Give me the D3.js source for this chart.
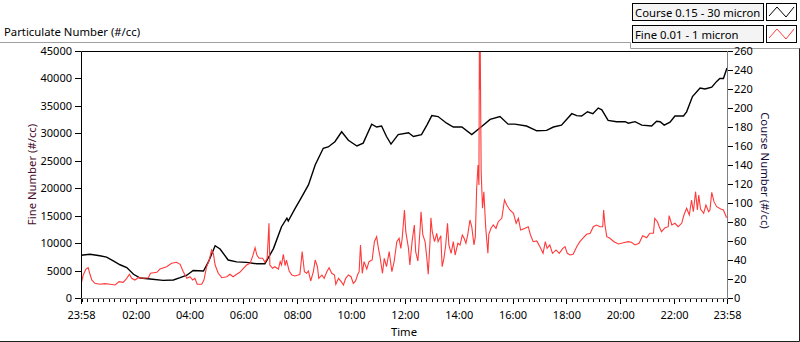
<!DOCTYPE html>
<html>
<head>
<meta charset="utf-8">
<title>Particulate Number</title>
<script src="https://d3js.org/d3.v7.min.js"></script>
<style>
    body { margin: 0; background: #fff; }
    svg text { font-family: "Noto Sans", sans-serif; }
</style>
</head>
<body>
<div id="chart"></div>
<script>
// Minutes after the 23:58 start, value in #/cc
const courseSeries = [
    [0,45],[20,46],[42,44.5],[57,43],[72,39],[87,35],[102,32],[117,25],[132,21],[154,20],
    [183,18.6],[206,19],[221,21.4],[236,24],[250,29],[273,28.4],[284,38],[299,55],[310,51.6],[328,40],
    [347,38],[369,37.5],[392,36],[410,36],[429,52],[447,75],[459,84],[462,81],[477,94],[488,103],
    [507,119],[522,140],[540,157.6],[551,159],[566,164.5],[581,175],[596,166],[615,160],[629,163],[648,183],
    [659,180],[670,181],[681,170],[691,162],[707,172],[730,174],[741,170],[759,172],[771,182],[782,192],
    [796,191],[815,184],[830,180],[849,180],[871,172],[889,179],[912,188],[934,191],[952,183],[967,183],
    [993,181],[1016,176],[1038,176.5],[1053,180],[1071,182],[1094,194],[1105,192],[1116,191.6],[1129,196],[1141,194],
    [1153,200],[1161,198],[1175,187],[1194,185.6],[1213,185.6],[1220,184],[1235,185.6],[1250,182],[1272,181],[1283,186],
    [1291,185.6],[1300,182],[1313,185],[1324,191.6],[1343,191.6],[1350,196],[1363,212],[1380,221],[1391,220],[1406,222],
    [1417,228],[1424,231],[1432,231],[1440,242]
];

const fineSeries = [
    [0,2500],[5,4190],[11,5280],[16,5520],[20,4320],[24,3280],[31,2670],[42,2500],[53,2610],[65,2500],
    [76,2370],[85,2970],[94,2860],[102,3590],[108,4320],[113,3590],[120,3280],[128,3700],[139,3590],[150,3700],
    [155,4500],[169,4680],[176,5280],[191,5700],[202,6320],[213,6500],[221,6140],[228,4790],[236,3590],[243,3880],
    [249,3280],[254,3590],[259,2500],[269,2500],[274,3280],[280,5700],[286,6920],[291,8750],[295,8140],[299,6010],
    [306,4500],[314,3700],[325,3880],[332,4320],[339,3880],[347,4320],[354,4680],[362,5410],[369,6010],[377,6320],
    [383,7710],[388,9170],[392,7830],[397,7230],[405,7230],[410,6500],[415,7230],[419,13610],[421,6010],[427,5410],
    [432,5700],[440,5280],[444,6620],[447,6010],[451,7960],[455,5890],[458,6920],[464,4920],[470,4190],[477,4000],
    [484,4190],[488,4320],[493,8440],[498,4790],[503,4500],[507,4920],[512,3100],[518,4790],[522,6920],[527,5700],
    [530,3590],[537,4190],[542,3590],[548,4790],[553,5520],[559,4500],[565,4190],[568,2500],[574,3590],[580,2970],
    [585,2370],[590,3590],[596,4190],[602,3880],[607,2670],[612,3100],[617,4320],[620,4790],[623,9660],[627,4500],
    [631,6620],[637,5280],[642,6620],[649,6920],[654,10260],[659,11170],[663,9050],[666,7830],[672,4500],[676,7230],
    [681,5700],[687,8440],[693,4790],[698,6620],[704,10260],[709,10880],[713,9050],[716,10880],[721,16030],[724,12080],
    [730,9050],[733,6010],[738,10260],[743,13300],[746,8440],[751,6740],[756,12700],[758,15720],[762,11480],[767,10260],
    [771,7230],[774,4320],[778,10260],[780,14630],[783,12080],[788,10260],[793,11790],[796,10260],[802,11350],[805,5700],
    [809,7230],[813,9660],[817,13610],[820,9660],[825,8140],[830,10260],[834,7830],[840,9970],[845,9660],[850,11480],
    [854,10880],[858,9970],[862,11480],[867,14210],[871,12990],[876,9660],[879,11170],[882,19990],[885,24230],[887,20590],
    [888,45000],[889,38000],[890,45000],[892,23010],[895,16340],[898,19370],[902,12990],[907,8140],[909,11610],[914,12700],
    [919,13300],[925,12700],[930,13900],[938,14520],[944,17860],[949,16940],[956,16030],[964,15430],[970,13610],[975,14520],
    [980,12390],[990,12700],[997,12990],[1002,11480],[1008,10260],[1016,10390],[1023,9350],[1030,8140],[1035,10260],[1039,9050],
    [1045,9660],[1051,8140],[1059,8750],[1066,8140],[1074,9050],[1079,9350],[1084,8140],[1090,7830],[1097,7960],[1105,9350],
    [1112,10260],[1120,10990],[1127,11610],[1135,11790],[1142,12990],[1149,13300],[1157,12990],[1163,12990],[1165,16030],[1168,13300],
    [1172,11170],[1179,10880],[1188,10260],[1198,9840],[1209,10080],[1220,10260],[1227,10150],[1235,9660],[1244,9970],[1252,11350],
    [1261,10990],[1268,11790],[1276,11790],[1279,14520],[1285,13900],[1289,12990],[1294,12080],[1302,12810],[1309,12990],[1311,15000],
    [1317,13300],[1324,13610],[1331,12990],[1339,13610],[1344,15120],[1350,16340],[1356,15120],[1361,17860],[1365,15720],[1370,19370],
    [1374,16030],[1377,18770],[1381,16220],[1388,15430],[1393,16940],[1399,15720],[1402,16030],[1406,19260],[1411,17550],[1417,16640],
    [1426,16220],[1432,16030],[1439,14630]
];

const timeTickLabels = ["23:58","02:00","04:00","06:00","08:00","10:00","12:00","14:00","16:00","18:00","20:00","22:00","23:58"];
const fineTicks = [0,5000,10000,15000,20000,25000,30000,35000,40000,45000];
const courseTicks = [0,20,40,60,80,100,120,140,160,180,200,220,240,260];
const legendLabels = ["Course 0.15 - 30 micron", "Fine 0.01 - 1 micron"];

let canvas = { width: 800, height: 342 };
let plot = { left: 81, right: 727, top: 51, bottom: 298 };

let start = new Date(2020, 0, 1, 23, 58);
let end = new Date(start.getTime() + 24 * 3600 * 1000);
let atMinute = m => new Date(start.getTime() + m * 60000);

// turn the "HH:MM" labels into dates, first and last are the ends of the run
let tickDates = timeTickLabels.map(function(lab, i) {
    if (i == 0) return start;
    if (i == timeTickLabels.length - 1) return end;
    let hm = lab.split(":");
    return new Date(2020, 0, 2, +hm[0], +hm[1]);
});

let x = d3.scaleTime().domain([start, end]).range([plot.left, plot.right]);
let yFine = d3.scaleLinear().domain([0, 45000]).range([plot.bottom, plot.top]);
let yCourse = d3.scaleLinear().domain([0, 260]).range([plot.bottom, plot.top]);

let svg = d3.select("#chart").append("svg")
    .attr("width", canvas.width).attr("height", canvas.height)
    .style("display", "block");

svg.append("rect").attr("width", canvas.width).attr("height", canvas.height).attr("fill", "#fff");

// panel frame
svg.append("path")
    .attr("d", "M0,42.5H630.5V48.5H800")
    .attr("fill", "none").attr("stroke", "#a0a0a0");
svg.append("path")
    .attr("d", "M799.5,48.5V341.5H0")
    .attr("fill", "none").attr("stroke", "#202020");

svg.append("text")
    .attr("x", 4).attr("y", 35.5)
    .attr("font-size", "11.3px")
    .text("Particulate Number (#/cc)");

// plot area
svg.append("rect")
    .attr("x", plot.left).attr("y", plot.top)
    .attr("width", plot.right - plot.left).attr("height", plot.bottom - plot.top)
    .attr("fill", "#fff");

svg.append("defs").append("clipPath").attr("id", "clip")
    .append("rect")
    .attr("x", plot.left).attr("y", plot.top)
    .attr("width", plot.right - plot.left).attr("height", plot.bottom - plot.top);

let courseLine = d3.line().x(d => x(atMinute(d[0]))).y(d => yCourse(d[1]));
let fineLine = d3.line().x(d => x(atMinute(d[0]))).y(d => yFine(d[1]));

let lines = svg.append("g").attr("clip-path", "url(#clip)");
lines.append("path")
    .datum(courseSeries)
    .attr("d", courseLine)
    .attr("fill", "none").attr("stroke", "#000").attr("stroke-width", 1.4);
lines.append("path")
    .datum(fineSeries)
    .attr("d", fineLine)
    .attr("fill", "none").attr("stroke", "#ff3a3a").attr("stroke-width", 1.1);

// sunken border: dark top/left, grey right/bottom
svg.append("path")
    .attr("d", "M" + (plot.left + 0.5) + "," + plot.bottom + "V" + (plot.top + 0.5) + "H" + plot.right)
    .attr("fill", "none").attr("stroke", "#000");
svg.append("path")
    .attr("d", "M" + (plot.right + 0.5) + "," + plot.top + "V" + (plot.bottom + 0.5) + "H" + plot.left)
    .attr("fill", "none").attr("stroke", "#808080");

// axes
let leftAxis = svg.append("g")
    .attr("transform", "translate(" + plot.left + ",0)")
    .call(d3.axisLeft(yFine).tickValues(fineTicks).tickSize(6).tickPadding(3).tickFormat(d3.format("d")));

let rightAxis = svg.append("g")
    .attr("transform", "translate(" + (plot.right + 1) + ",0)")
    .call(d3.axisRight(yCourse).tickValues(courseTicks).tickSize(5).tickPadding(1));

let minorAxis = svg.append("g")
    .attr("transform", "translate(0," + (plot.bottom + 1) + ")")
    .call(d3.axisBottom(x).ticks(d3.timeMinute.every(12)).tickSize(3).tickFormat(""));

let bottomAxis = svg.append("g")
    .attr("transform", "translate(0," + (plot.bottom + 1) + ")")
    .call(d3.axisBottom(x).tickValues(tickDates).tickSize(5).tickPadding(7)
        .tickFormat((d, i) => timeTickLabels[i]));

[leftAxis, rightAxis, minorAxis, bottomAxis].forEach(function(ax) {
    ax.select(".domain").remove();
    ax.selectAll("line").attr("stroke", "#000").attr("shape-rendering", "crispEdges");
    ax.selectAll("text").attr("font-size", "11px").attr("fill", "#000")
        .attr("font-family", "'Noto Sans', sans-serif");
});

// axis titles
svg.append("text")
    .attr("transform", "translate(35.5," + ((plot.top + plot.bottom) / 2) + ") rotate(-90)")
    .attr("text-anchor", "middle")
    .attr("font-size", "11.3px").attr("fill", "#4a0d2a")
    .text("Fine Number (#/cc)");

svg.append("text")
    .attr("transform", "translate(761," + ((plot.top + plot.bottom) / 2 - 4) + ") rotate(90)")
    .attr("text-anchor", "middle")
    .attr("font-size", "11.3px").attr("fill", "#1a0d40")
    .text("Course Number (#/cc)");

svg.append("text")
    .attr("x", (plot.left + plot.right) / 2).attr("y", 335.5)
    .attr("text-anchor", "middle")
    .attr("font-size", "11.3px")
    .text("Time");

// legend
let legendColors = ["#000", "#ff3a3a"];
let legend = svg.append("g");
legendLabels.forEach(function(lab, i) {
    let top = 3 + i * 22;
    legend.append("rect")
        .attr("x", 632.5).attr("y", top + 0.5).attr("width", 131).attr("height", 17)
        .attr("fill", "#f4f4f4").attr("stroke", "#000");
    legend.append("text")
        .attr("x", 635).attr("y", top + 13.5)
        .attr("font-size", "11.3px")
        .text(lab);
    legend.append("rect")
        .attr("x", 766.5).attr("y", top + 0.5).attr("width", 30).attr("height", 17)
        .attr("fill", "#fff").attr("stroke", "#000");
    legend.append("path")
        .attr("d", "M" + 769 + "," + (top + 13) + "L" + 777 + "," + (top + 4) + "L" + 786 + "," + (top + 14) + "L" + 794 + "," + (top + 4))
        .attr("fill", "none").attr("stroke", legendColors[i]);
});
</script>
</body>
</html>
